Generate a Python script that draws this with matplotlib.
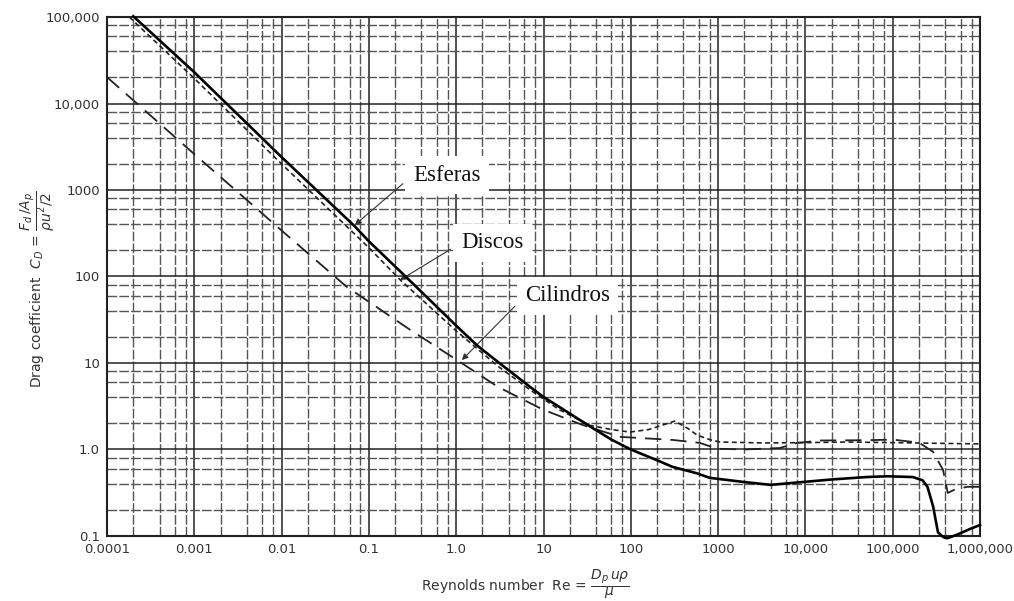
import matplotlib
matplotlib.use('Agg')
import matplotlib.pyplot as plt
import numpy as np

# Reynolds numbers / drag coefficients
re_esferas = [2e-4, 1e-3, 0.01, 0.069, 0.1, 0.3, 1.0, 1.73, 3.0, 7.0, 9.8, 20, 34, 60, 100,
              200, 300, 573, 800, 2000, 4000, 7000, 2e4, 5e4, 8.6e4, 1.7e5, 2.2e5, 2.5e5,
              2.9e5, 3.3e5, 3.8e5, 4.2e5, 5.4e5, 7.6e5, 1e6]
cd_esferas = [1.02e5, 2.3e4, 2.4e3, 380, 255, 88, 27, 16, 10.3, 5.3, 4.1, 2.6, 1.85, 1.3, 1.0,
              0.75, 0.63, 0.53, 0.47, 0.42, 0.39, 0.41, 0.45, 0.48, 0.49, 0.48, 0.44, 0.37,
              0.22, 0.11, 0.097, 0.094, 0.103, 0.12, 0.134]

re_discos = [1.8e-4, 1e-3, 0.01, 0.1, 0.227, 1.0, 3.0, 7.0, 15, 34, 60, 98, 160, 233, 320,
             450, 573, 800, 1050, 3270, 1e4, 3e4, 1e5, 3e5, 1e6]
cd_discos = [1.0e5, 1.95e4, 2.0e3, 215, 92, 23.5, 9.2, 4.9, 2.9, 1.9, 1.7, 1.59, 1.7, 1.92, 2.13,
             1.75, 1.47, 1.3, 1.22, 1.19, 1.2, 1.22, 1.2, 1.18, 1.16]

re_cilindros = [1e-4, 1e-3, 0.004, 0.01, 0.056, 0.1, 0.3, 1.1, 3.0, 9.8, 28, 75, 300, 620,
                975, 2000, 5100, 8000, 1.5e4, 5e4, 1e5, 2e5, 2.9e5, 3.77e5, 4.27e5, 5e5,
                7.1e5, 1e6]
cd_cilindros = [2.02e4, 2.6e3, 766, 340, 75.6, 51, 24, 10.3, 5.3, 2.9, 1.92, 1.4, 1.29, 1.19,
                1.02, 1.0, 1.04, 1.19, 1.27, 1.28, 1.3, 1.2, 0.94, 0.58, 0.314, 0.34,
                0.37, 0.37]

x_ticks = [1e-4, 1e-3, 1e-2, 0.1, 1, 10, 100, 1e3, 1e4, 1e5, 1e6]
x_labels = ['0.0001', '0.001', '0.01', '0.1', '1.0', '10', '100', '1000', '10,000',
            '100,000', '1,000,000']
y_ticks = [0.1, 1, 10, 100, 1e3, 1e4, 1e5]
y_labels = ['0.1', '1.0', '10', '100', '1000', '10,000', '100,000']

fig = plt.figure(figsize=(10.14, 6.01), dpi=100)
ax = fig.add_axes([0.1055, 0.1082, 0.861, 0.8635])
ax.set_xscale('log')
ax.set_yscale('log')
ax.set_xlim(1e-4, 1e6)
ax.set_ylim(0.1, 1e5)

# graph-paper grid: decades plus 2, 4, 6, 8
minor_x = [d * m for d in x_ticks[:-1] for m in (2, 4, 6, 8)]
minor_y = [d * m for d in y_ticks[:-1] for m in (2, 4, 6, 8)]
ax.set_xticks(x_ticks, x_labels)
ax.set_yticks(y_ticks, y_labels)
ax.set_xticks(minor_x, minor=True)
ax.set_yticks(minor_y, minor=True)
ax.set_xticklabels([], minor=True)
ax.set_yticklabels([], minor=True)
ax.tick_params(which='both', length=0, labelsize=9.5, labelcolor='#333333', pad=5)
ax.grid(which='major', color='#222222', lw=1.1)
ax.grid(which='minor', color='#555555', lw=1.0, ls=(0, (7, 1.5)))
ax.set_axisbelow(True)
for s in ax.spines.values():
    s.set_linewidth(1.5)
    s.set_color('#222222')

ax.plot(re_esferas, cd_esferas, color='black', lw=1.9, clip_on=False, zorder=4)
ax.plot(re_discos, cd_discos, color='#222222', lw=1.2, ls=(0, (3, 2)), zorder=3)
ax.plot(re_cilindros, cd_cilindros, color='#222222', lw=1.3, ls=(0, (9, 5)), zorder=3)

box = dict(boxstyle='square,pad=0.35', fc='white', ec='none')
arrow = dict(arrowstyle='-|>', lw=0.8, color='#333333', mutation_scale=9,
             shrinkA=2, shrinkB=0, relpos=(0, 0.5))
tfont = dict(family='Liberation Serif', size=16.5, va='center', ha='left', color='#111111')
ax.annotate('Esferas', xy=(0.069, 394), xytext=(0.32, 1490), bbox=box, arrowprops=arrow, **tfont)
ax.annotate('Discos', xy=(0.227, 91), xytext=(1.135, 244), bbox=box, arrowprops=arrow, **tfont)
ax.annotate('Cilindros', xy=(1.16, 10.8), xytext=(6.14, 59.5), bbox=box, arrowprops=arrow, **tfont)

fig.text(0.037, 0.519, r'Drag coefficient  $C_D$ = $\dfrac{F_d\,/A_p}{\rho u^2/2}$',
         rotation=90, ha='center', va='center', fontsize=10, color='#333333')
fig.text(0.518, 0.028, r'Reynolds number  Re = $\dfrac{D_p\,u\rho}{\mu}$',
         ha='center', va='center', fontsize=10, color='#333333')

fig.savefig('out.png', dpi=100)
